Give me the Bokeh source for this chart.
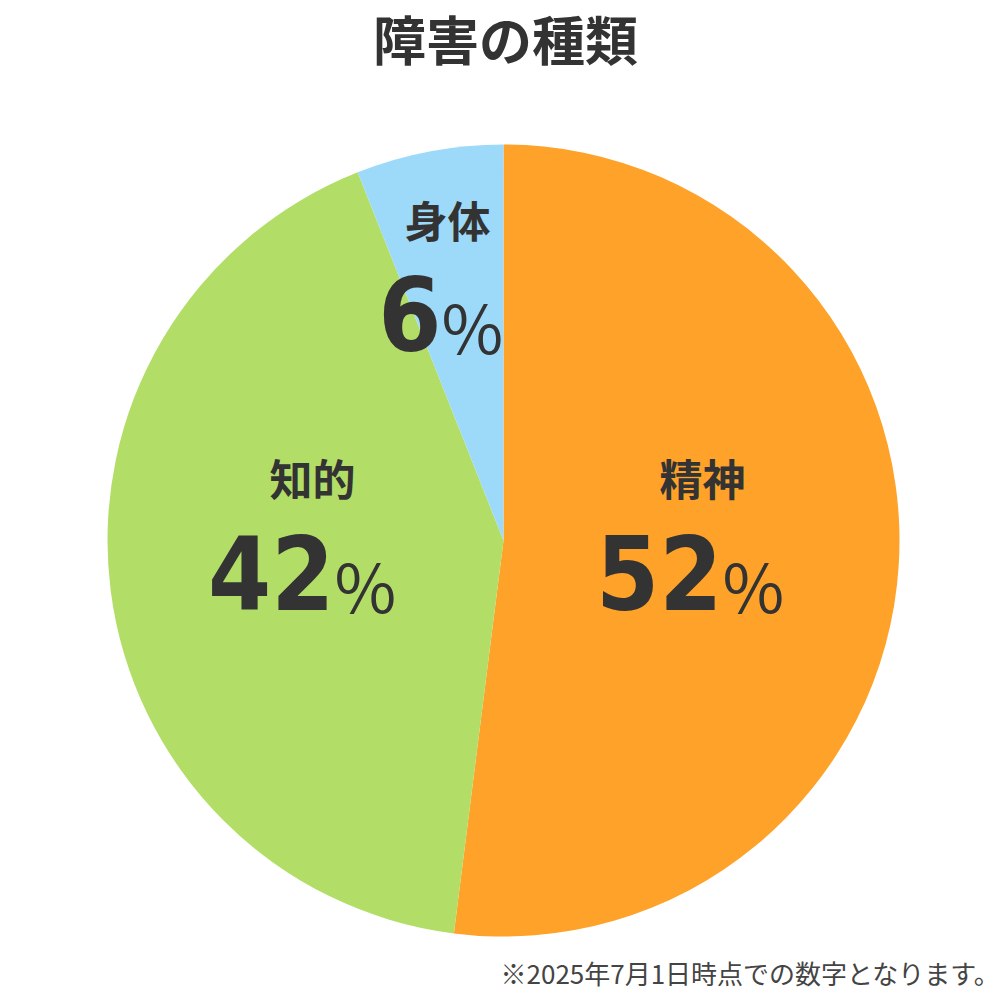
import math
from bokeh.plotting import figure
from bokeh.models import Range1d, ColumnDataSource
from bokeh.core.properties import value
from bokeh.embed import file_html
from bokeh.resources import INLINE

# ---- data ----
categories = ["精神", "知的", "身体"]
percents = [52, 42, 6]
colors = ["#FEA229", "#B2DE67", "#9DD9F9"]
title_text = "障害の種類"
note_text = "※2025年7月1日時点での数字となります。"

# ---- layout (image pixel coordinates; y measured from top) ----
W = H = 1000
def Y(img_y):
    return H - img_y

cx, cy, R = 503, Y(540), 396
# (category x, category y, number anchor x, number anchor y)
label_pos = [(702, 476, 722, 572), (312, 476, 334, 572), (447, 218, 441, 313)]

p = figure(width=W, height=H, output_backend="svg", toolbar_location=None,
           x_range=Range1d(0, W), y_range=Range1d(0, H),
           min_border=0)
p.axis.visible = False
p.grid.visible = False
p.outline_line_color = None
p.background_fill_color = "white"
p.border_fill_color = "white"

total = sum(percents)
starts, ends = [], []
cum = 0
for v in percents:
    starts.append(math.pi / 2 - 2 * math.pi * cum / total)
    cum += v
    ends.append(math.pi / 2 - 2 * math.pi * cum / total)

src = ColumnDataSource(dict(start=starts, end=ends, color=colors))
p.wedge(x=cx, y=cy, radius=R, start_angle="start", end_angle="end",
        direction="clock", fill_color="color", line_color=None, source=src)

cat_x = [lp[0] for lp in label_pos]
cat_y = [Y(lp[1]) for lp in label_pos]
p.text(x=cat_x, y=cat_y, text=categories, text_font=value("Noto Sans CJK JP"),
       text_font_style="bold", text_font_size="43px", text_color="#333333",
       text_align="center", text_baseline="middle")

num_x = [lp[2] for lp in label_pos]
num_y = [Y(lp[3]) for lp in label_pos]
p.text(x=num_x, y=num_y, text=[str(v) for v in percents],
       text_font=value("DejaVu Sans Condensed, Liberation Sans Narrow, Roboto, sans-serif"),
       text_font_style="bold",
       text_font_size="101px", text_color="#333333",
       text_align="right", text_baseline="alphabetic")
p.text(x=list(num_x), y=[y - 11 for y in num_y], text=["%"] * len(percents),
       text_font=value("Noto Sans CJK JP"), text_font_style="normal",
       text_font_size="67px", text_color="#333333",
       text_align="left", text_baseline="alphabetic")

p.text(x=[505], y=[Y(37)], text=[title_text], text_font=value("Noto Sans CJK JP"),
       text_font_style="bold", text_font_size="53px", text_color="#333333",
       text_align="center", text_baseline="middle")

p.text(x=[1000], y=[Y(972)], text=[note_text], text_font=value("Noto Sans CJK JP"),
       text_font_size="26px", text_color="#444444",
       text_align="right", text_baseline="middle")

open("out.html", "w").write(file_html(p, INLINE))
